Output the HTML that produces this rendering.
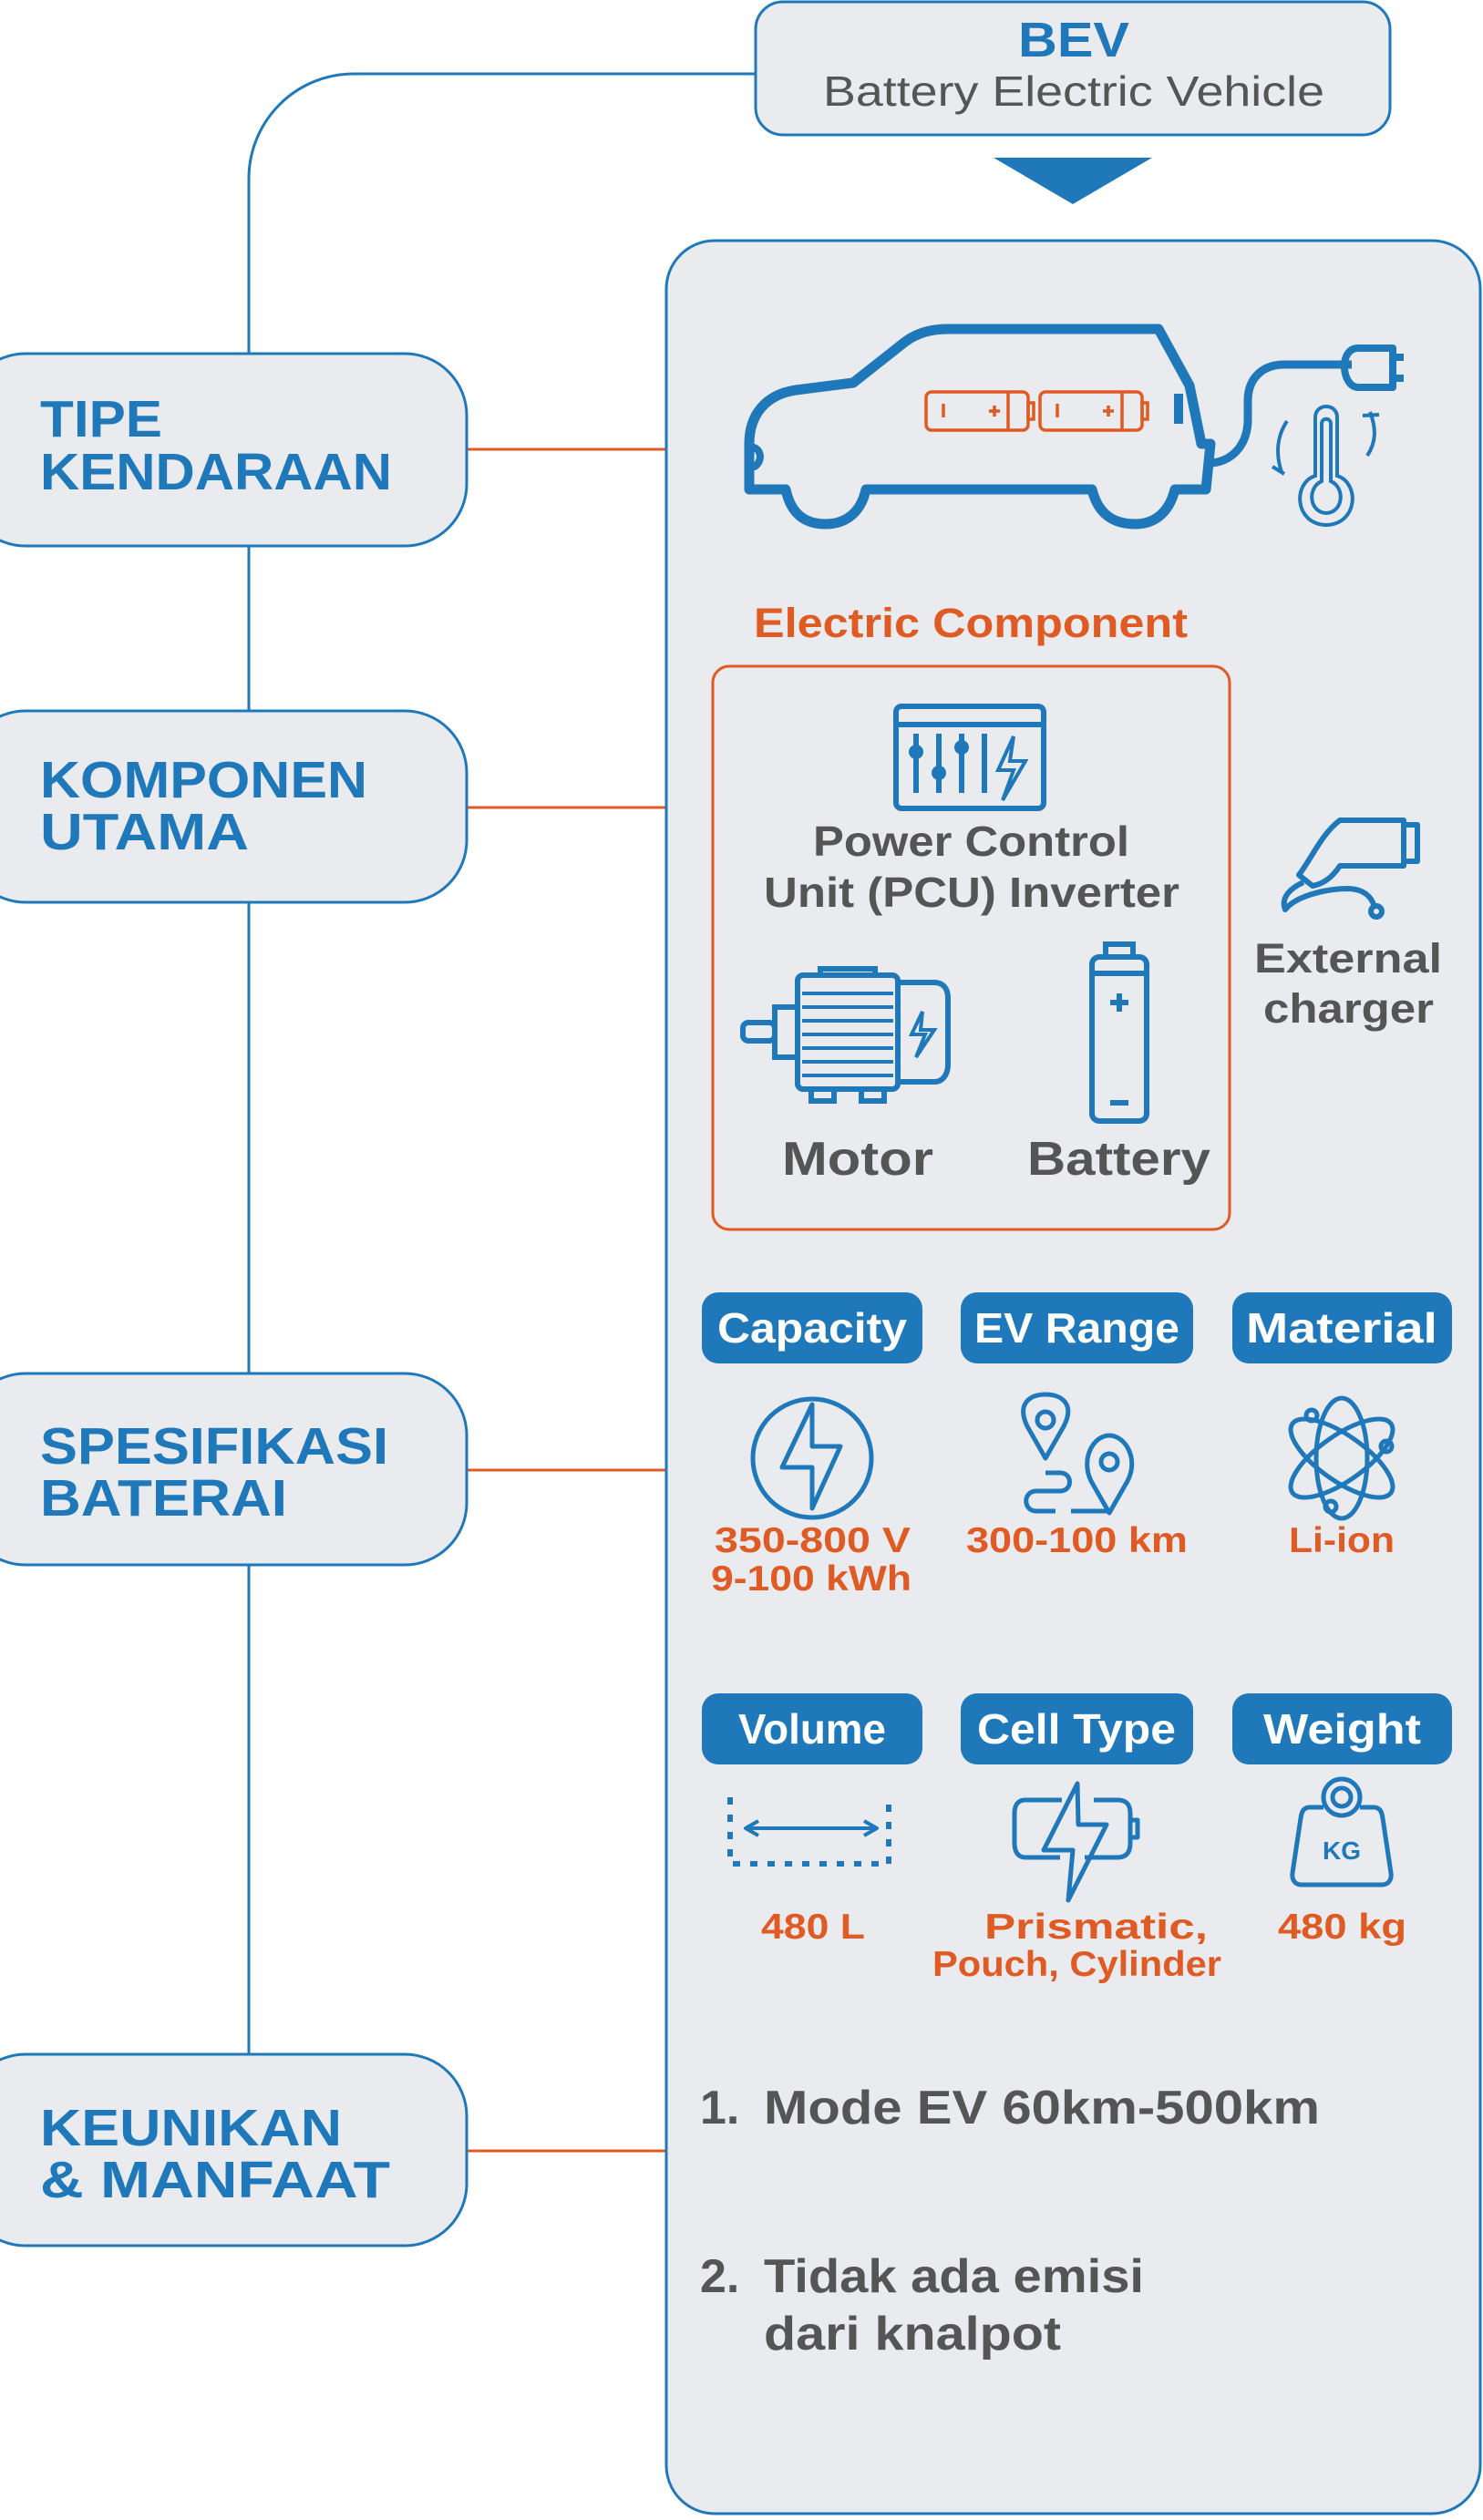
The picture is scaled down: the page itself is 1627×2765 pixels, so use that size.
<!DOCTYPE html>
<html><head><meta charset="utf-8"><style>
html,body{margin:0;padding:0;background:#fff;}
svg{display:block;}
text{font-family:"Liberation Sans",sans-serif;}
</style></head><body>
<svg width="1627" height="2765" viewBox="0 0 1627 2765" xmlns="http://www.w3.org/2000/svg">
<path d="M829 81 H388 A115 115 0 0 0 273 196 V2254" fill="none" stroke="#1f78b9" stroke-width="3"/>
<g stroke="#e05a24" stroke-width="3">
<line x1="512" y1="493" x2="731" y2="493"/>
<line x1="512" y1="886" x2="731" y2="886"/>
<line x1="512" y1="1613" x2="731" y2="1613"/>
<line x1="512" y1="2360" x2="731" y2="2360"/>
</g>
<rect x="829" y="2" width="696" height="146" rx="30" fill="#e9ebee" stroke="#1f78b9" stroke-width="3"/>
<text x="1117" y="62" font-size="54" font-weight="bold" fill="#1f78b9" textLength="122" lengthAdjust="spacingAndGlyphs">BEV</text>
<text x="903" y="116" font-size="46" fill="#555" textLength="550" lengthAdjust="spacingAndGlyphs">Battery Electric Vehicle</text>
<polygon points="1090,173 1264,173 1177,224" fill="#1f78b9"/>
<rect x="731" y="264" width="893" height="2494" rx="53" fill="#e9ebee" stroke="#1f78b9" stroke-width="3"/>
<g fill="#e9ebee" stroke="#1f78b9" stroke-width="3">
<rect x="-40" y="388" width="552" height="211" rx="68"/>
<rect x="-40" y="780" width="552" height="210" rx="68"/>
<rect x="-40" y="1507" width="552" height="210" rx="68"/>
<rect x="-40" y="2254" width="552" height="210" rx="68"/>
</g>
<g font-size="57" font-weight="bold" fill="#1f78b9">
<text x="44" y="479" textLength="134" lengthAdjust="spacingAndGlyphs">TIPE</text><text x="44" y="537" textLength="386" lengthAdjust="spacingAndGlyphs">KENDARAAN</text>
<text x="44" y="875" textLength="359" lengthAdjust="spacingAndGlyphs">KOMPONEN</text><text x="44" y="932" textLength="229" lengthAdjust="spacingAndGlyphs">UTAMA</text>
<text x="44" y="1606" textLength="382" lengthAdjust="spacingAndGlyphs">SPESIFIKASI</text><text x="44" y="1663" textLength="271" lengthAdjust="spacingAndGlyphs">BATERAI</text>
<text x="44" y="2354" textLength="331" lengthAdjust="spacingAndGlyphs">KEUNIKAN</text><text x="44" y="2411" textLength="384" lengthAdjust="spacingAndGlyphs">&amp; MANFAAT</text>
</g>
<g fill="none" stroke="#1f78b9" stroke-width="11" stroke-linejoin="round">
<path d="M1040 361 H1271 L1305 423 L1318 487 H1328 L1323 537 H1289 C1282 565 1264 575 1246 575 C1222 575 1205 565 1198 537 H950 C944 565 925 575 906 575 C884 575 868 565 862 537 H822 V487 C822 455 840 433 873 428 L936 420 L993 375 C1005 366 1020 361 1040 361 Z"/>
<path d="M1293 432 V465" stroke-width="10"/>
<path d="M822 490 C835 490 838 505 828 512 H822" stroke-width="8"/>
<path d="M1330 508 C1355 505 1369 485 1369 460 V440 C1369 415 1385 400 1409 400 H1483" stroke-width="9"/>
<path d="M1490 382 H1528 V425 H1490 C1472 425 1468 382 1490 382 Z" stroke-width="8"/>
<path d="M1528 392 H1540 M1528 415 H1540" stroke-width="8"/>
</g>
<g fill="none" stroke="#e05a24" stroke-width="3.5">
<rect x="1016" y="430" width="112" height="42" rx="6"/><line x1="1106" y1="431" x2="1106" y2="471"/><rect x="1128" y="442" width="6" height="18"/>
<line x1="1035" y1="443" x2="1035" y2="458"/><path d="M1085 451 H1097 M1091 445 V457"/>
<rect x="1141" y="430" width="112" height="42" rx="6"/><line x1="1231" y1="431" x2="1231" y2="471"/><rect x="1253" y="442" width="6" height="18"/>
<line x1="1160" y1="443" x2="1160" y2="458"/><path d="M1210 451 H1222 M1216 445 V457"/>
</g>
<g fill="none" stroke="#1f78b9" stroke-width="4">
<path d="M1443 458 C1443 442 1467 442 1467 458 V522 C1492 530 1490 575 1455 576 C1420 575 1418 530 1443 522 Z"/>
<path d="M1450 465 C1450 458 1460 458 1460 465 V528 C1476 535 1474 562 1455 563 C1436 562 1434 535 1450 528 Z"/>
<path d="M1412 462 C1400 480 1400 500 1406 518 M1396 512 L1409 520 M1500 500 C1510 485 1510 470 1503 452 M1495 456 L1513 455"/>
</g>
<text x="827" y="699" font-size="45" font-weight="bold" fill="#e05a24" textLength="476" lengthAdjust="spacingAndGlyphs">Electric Component</text>
<rect x="782" y="731" width="567" height="618" rx="18" fill="none" stroke="#e05a24" stroke-width="3"/>
<g fill="none" stroke="#1f78b9" stroke-width="6">
<rect x="983" y="775" width="162" height="112" rx="6"/><line x1="983" y1="795" x2="1145" y2="795"/>
<path d="M1005 805 V870 M1030 805 V870 M1055 805 V870 M1080 805 V870"/>
<path d="M1112 808 L1095 845 H1112 L1100 878 L1125 835 H1108 Z" stroke-width="4"/>
</g>
<g fill="#1f78b9"><circle cx="1005" cy="825" r="8"/><circle cx="1030" cy="848" r="8"/><circle cx="1055" cy="820" r="8"/></g>
<text x="892" y="939" font-size="46" font-weight="bold" fill="#555" textLength="347" lengthAdjust="spacingAndGlyphs">Power Control</text>
<text x="838" y="995" font-size="46" font-weight="bold" fill="#555" textLength="456" lengthAdjust="spacingAndGlyphs">Unit (PCU) Inverter</text>
<g fill="none" stroke="#1f78b9" stroke-width="6">
<rect x="875" y="1070" width="110" height="125" rx="6"/>
<path d="M985 1078 H1025 C1035 1078 1040 1085 1040 1095 V1168 C1040 1178 1035 1187 1025 1187 H985"/>
<rect x="850" y="1105" width="25" height="55"/><rect x="815" y="1122" width="35" height="20" rx="6"/>
<path d="M890 1195 V1208 H915 V1195 M945 1195 V1208 H970 V1195 M900 1070 V1063 H960 V1070"/>
<path d="M1012 1110 L1000 1135 H1015 L1005 1160 L1025 1130 H1010 Z" stroke-width="4"/>
</g>
<g stroke="#1f78b9" stroke-width="4"><path d="M880 1090 H980 M880 1105 H980 M880 1120 H980 M880 1135 H980 M880 1150 H980 M880 1165 H980 M880 1180 H980"/></g>
<text x="858" y="1289" font-size="52" font-weight="bold" fill="#555" textLength="166" lengthAdjust="spacingAndGlyphs">Motor</text>
<g fill="none" stroke="#1f78b9" stroke-width="6">
<rect x="1198" y="1050" width="60" height="180" rx="8"/><rect x="1213" y="1036" width="30" height="14"/>
<line x1="1198" y1="1068" x2="1258" y2="1068"/>
<path d="M1218 1100 H1238 M1228 1090 V1110 M1218 1210 H1238"/>
</g>
<text x="1127" y="1289" font-size="52" font-weight="bold" fill="#555" textLength="201" lengthAdjust="spacingAndGlyphs">Battery</text>
<g fill="none" stroke="#1f78b9" stroke-width="6" stroke-linejoin="round">
<path d="M1470 900 H1540 V950 H1470 C1460 965 1450 970 1440 972 L1425 960 C1440 940 1450 915 1470 900 Z"/>
<path d="M1540 905 H1555 V945 H1540"/>
<path d="M1430 968 C1415 975 1405 985 1410 998 C1420 985 1450 975 1480 975 C1498 976 1505 985 1508 995"/>
<circle cx="1510" cy="1000" r="6"/>
</g>
<text x="1376" y="1067" font-size="45" font-weight="bold" fill="#555" textLength="206" lengthAdjust="spacingAndGlyphs">External</text>
<text x="1386" y="1122" font-size="45" font-weight="bold" fill="#555" textLength="187" lengthAdjust="spacingAndGlyphs">charger</text>
<g fill="#1f78b9">
<rect x="770" y="1418" width="242" height="78" rx="18"/><rect x="1054" y="1418" width="255" height="78" rx="18"/><rect x="1352" y="1418" width="241" height="78" rx="18"/>
<rect x="770" y="1858" width="242" height="78" rx="18"/><rect x="1054" y="1858" width="255" height="78" rx="18"/><rect x="1352" y="1858" width="241" height="78" rx="18"/>
</g>
<g font-size="46" font-weight="bold" fill="#fff">
<text x="787" y="1473" textLength="208" lengthAdjust="spacingAndGlyphs">Capacity</text><text x="1069" y="1473" textLength="225" lengthAdjust="spacingAndGlyphs">EV Range</text><text x="1367" y="1473" textLength="210" lengthAdjust="spacingAndGlyphs">Material</text>
<text x="810" y="1913" textLength="162" lengthAdjust="spacingAndGlyphs">Volume</text><text x="1072" y="1913" textLength="218" lengthAdjust="spacingAndGlyphs">Cell Type</text><text x="1386" y="1913" textLength="173" lengthAdjust="spacingAndGlyphs">Weight</text>
</g>
<g fill="none" stroke="#1f78b9" stroke-width="5" stroke-linejoin="round">
<circle cx="891" cy="1600" r="65"/>
<path d="M891 1541 L858 1610 H891 V1655 L922 1587 H891 Z"/>
<path d="M1147 1600 L1127 1565 C1115 1540 1130 1530 1147 1530 C1164 1530 1180 1540 1167 1565 Z"/><circle cx="1147" cy="1558" r="9"/>
<path d="M1217 1660 L1197 1625 C1185 1600 1200 1575 1217 1575 C1234 1575 1250 1600 1237 1625 Z"/><circle cx="1217" cy="1604" r="9"/>
<path d="M1147 1616 H1163 C1177 1616 1177 1636 1163 1636 H1137 C1122 1636 1122 1658 1137 1658 H1158 M1175 1658 H1217"/>
<ellipse cx="1472" cy="1600" rx="28" ry="66"/>
<ellipse cx="1472" cy="1600" rx="66" ry="25" transform="rotate(35 1472 1600)"/>
<ellipse cx="1472" cy="1600" rx="66" ry="25" transform="rotate(-35 1472 1600)"/>
<circle cx="1439" cy="1553" r="6"/><circle cx="1521" cy="1587" r="6"/><circle cx="1460" cy="1653" r="6"/>
<path d="M801 1972 V2045 H975 V1972" stroke-dasharray="8 11" stroke-width="6"/>
<path d="M818 2006 H962 M832 1998 L818 2006 L832 2014 M948 1998 L962 2006 L948 2014" stroke-width="4"/>
<path d="M1165 1975 H1125 C1117 1975 1113 1980 1113 1990 V2022 C1113 2032 1117 2038 1125 2038 H1163 M1190 2038 H1226 C1236 2038 1240 2032 1240 2022 V1990 C1240 1980 1236 1975 1226 1975 H1200"/>
<path d="M1240 1997 H1248 V2016 H1240"/>
<path d="M1182 1957 L1145 2030 H1177 L1172 2085 L1214 2002 H1183 Z"/>
<circle cx="1472" cy="1972" r="20"/><circle cx="1472" cy="1972" r="10"/>
<path d="M1452 1983 H1437 C1430 1983 1428 1988 1427 1995 L1418 2055 C1417 2063 1421 2068 1428 2068 H1516 C1523 2068 1527 2063 1526 2055 L1517 1995 C1516 1988 1514 1983 1507 1983 H1492"/>
</g>
<text x="1472" y="2040" font-size="28" font-weight="bold" fill="#1f78b9" text-anchor="middle">KG</text>
<g font-size="39" font-weight="bold" fill="#e05a24">
<text x="784" y="1703" textLength="215" lengthAdjust="spacingAndGlyphs">350-800 V</text><text x="780" y="1745" textLength="220" lengthAdjust="spacingAndGlyphs">9-100 kWh</text>
<text x="1060" y="1703" textLength="243" lengthAdjust="spacingAndGlyphs">300-100 km</text><text x="1414" y="1703" textLength="116" lengthAdjust="spacingAndGlyphs">Li-ion</text>
<text x="835" y="2127" textLength="114" lengthAdjust="spacingAndGlyphs">480 L</text>
<text x="1080" y="2127" textLength="245" lengthAdjust="spacingAndGlyphs">Prismatic,</text><text x="1023" y="2168" textLength="317" lengthAdjust="spacingAndGlyphs">Pouch, Cylinder</text>
<text x="1402" y="2127" textLength="141" lengthAdjust="spacingAndGlyphs">480 kg</text>
</g>
<g font-size="52" font-weight="bold" fill="#555">
<text x="768" y="2330">1.</text><text x="838" y="2330" textLength="610" lengthAdjust="spacingAndGlyphs">Mode EV 60km-500km</text>
<text x="768" y="2515">2.</text><text x="838" y="2515" textLength="417" lengthAdjust="spacingAndGlyphs">Tidak ada emisi</text>
<text x="838" y="2578" textLength="326" lengthAdjust="spacingAndGlyphs">dari knalpot</text>
</g>
</svg>
</body></html>
